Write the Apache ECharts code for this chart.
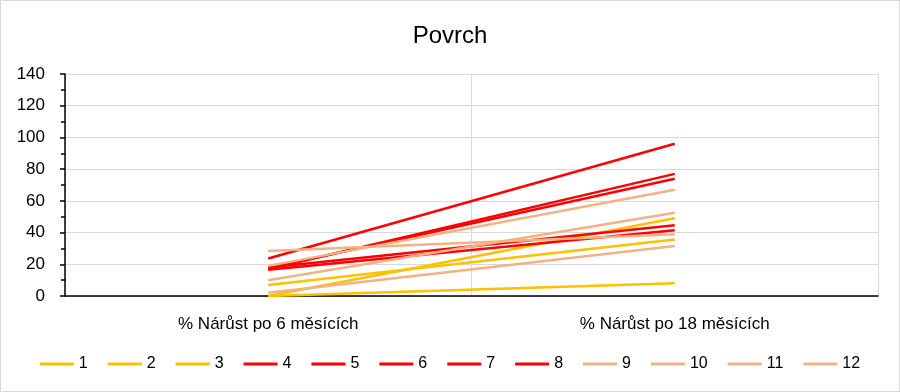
<!DOCTYPE html>
<html>
<head>
<meta charset="utf-8">
<script src="https://cdn.jsdelivr.net/npm/echarts@6/dist/echarts.min.js"></script>
<style>
html,body{margin:0;padding:0;background:#fff;}
#c{width:898px;height:390px;border:1px solid #d9d9d9;}
</style>
</head>
<body>
<div id="c"></div>
<script>
const categories = ['% Nárůst po 6 měsících', '% Nárůst po 18 měsících'];
const seriesNames = ['1','2','3','4','5','6','7','8','9','10','11','12'];
const s1 = [0, 8];
const s2 = [0, 49];
const s3 = [6.9, 35.6];
const s4 = [23.6, 96];
const s5 = [17, 77];
const s6 = [17.5, 74];
const s7 = [18, 44.6];
const s8 = [16.5, 41.4];
const s9 = [19, 67];
const s10 = [28.4, 39];
const s11 = [10, 52.5];
const s12 = [2, 31.6];
const seriesValues = [s1,s2,s3,s4,s5,s6,s7,s8,s9,s10,s11,s12];
const yTicks = [0,20,40,60,80,100,120,140];
const colors = ['#FFC000','#FFC000','#FFC000','#FF0000','#FF0000','#FF0000','#FF0000','#FF0000','#F4B183','#F4B183','#F4B183','#F4B183'];

const font = 'Liberation Sans, Arial, sans-serif';
const chart = echarts.init(document.getElementById('c'));
chart.setOption({
  animation: false,
  color: colors,
  title: {
    text: 'Povrch', left: 'center', top: 18,
    textStyle: {fontFamily: font, fontSize: 24, fontWeight: 'normal', color: '#000'}
  },
  legend: {
    data: seriesNames, bottom: 14, left: 'center',
    icon: 'rect', itemWidth: 34, itemHeight: 3, itemGap: 20,
    textStyle: {fontFamily: font, fontSize: 16, color: '#000'}
  },
  grid: {left: 64, right: 21, top: 73, bottom: 95},
  xAxis: {
    type: 'category', data: categories, boundaryGap: true,
    axisLine: {lineStyle: {color: '#000', width: 1.5}},
    axisTick: {show: false},
    axisLabel: {fontFamily: font, fontSize: 17, color: '#000', margin: 20},
    splitLine: {show: true, lineStyle: {color: '#d9d9d9', width: 1}}
  },
  yAxis: {
    type: 'value', min: yTicks[0], max: yTicks[yTicks.length-1], interval: 20,
    axisLine: {show: true, lineStyle: {color: '#000', width: 1.5}},
    axisTick: {show: true, length: 5, lineStyle: {color: '#000', width: 1.5}},
    minorTick: {show: true, splitNumber: 2, length: 4, lineStyle: {color: '#000', width: 1.5}},
    axisLabel: {fontFamily: font, fontSize: 17, color: '#000', margin: 20},
    splitLine: {show: true, lineStyle: {color: '#d9d9d9', width: 1}}
  },
  series: seriesNames.map((n, i) => ({
    name: n, type: 'line', data: seriesValues[i], symbol: 'none',
    lineStyle: {width: 2.5, color: colors[i]}
  }))
});
</script>
</body>
</html>
